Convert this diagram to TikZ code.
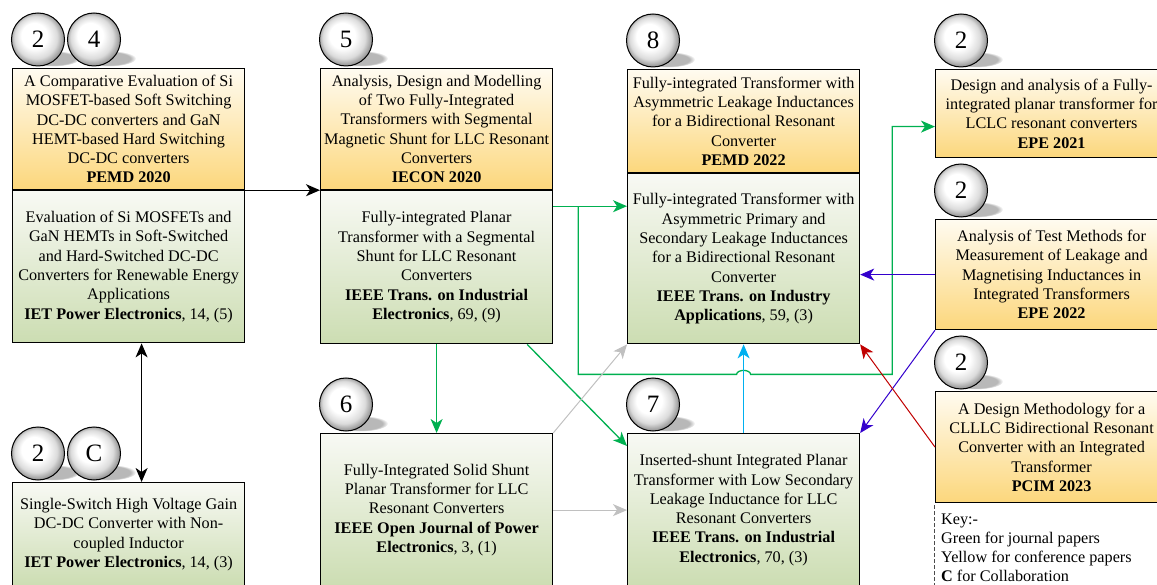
\documentclass[tikz,border=0pt]{standalone}
\usepackage{fontspec}
\setmainfont{Liberation Serif}
\usetikzlibrary{positioning,arrows.meta,fadings,backgrounds}
\definecolor{ConfTop}{HTML}{FFFBF0}
\definecolor{ConfBot}{HTML}{FCD77C}
\definecolor{JourTop}{HTML}{F8F9F4}
\definecolor{JourBot}{HTML}{CCDDB2}
\definecolor{LinkGreen}{HTML}{00B050}
\definecolor{LinkGrey}{HTML}{C0C0C0}
\definecolor{LinkCyan}{HTML}{00B0F0}
\definecolor{LinkBlue}{HTML}{3300CC}
\definecolor{LinkRed}{HTML}{C00000}
\pgfdeclareradialshading{orb}{\pgfpoint{-6bp}{6bp}}{color(0bp)=(white); color(12bp)=(white); color(20bp)=(black!14); color(26bp)=(black!45); color(30bp)=(black!55)}

\begin{document}
\begin{tikzpicture}[
      x=1pt, y=-1pt,
      >={Stealth[length=14pt, width=12pt, inset=4pt]},
      every node/.style={font=\fontsize{16.2pt}{19.3pt}\selectfont},
      conf/.style={draw=black, line width=1.2pt, top color=ConfTop, bottom color=ConfBot, minimum width=232pt, inner sep=2pt, align=center, anchor=north west},
      jour/.style={draw=black, line width=1.2pt, top color=JourTop, bottom color=JourBot, minimum width=232pt, inner sep=2pt, align=center, anchor=north west},
      ball/.style={circle, draw=black, line width=1pt, minimum size=53pt, inner sep=0pt, shade, shading=orb, anchor=south, font=\fontsize{25pt}{25pt}\selectfont},
      ballshade/.style={fill=black!28, path fading=circle with fuzzy edge 20 percent},
      link/.style={line width=1.3pt, ->},
      thinlink/.style={line width=1pt, ->},
      keytext/.style={align=left, inner sep=0pt},
      keyline/.style={dash pattern=on 4pt off 2pt, line width=0.8pt, black!70}
    ]
    \useasboundingbox (0,0) rectangle (1157,585);

    % conference (top) and journal (bottom) boxes
    \node[conf, minimum height=121pt] (pemd20) at (12,68) {A Comparative Evaluation of Si\\MOSFET-based Soft Switching\\DC-DC converters and GaN\\HEMT-based Hard Switching\\DC-DC converters\\\textbf{PEMD 2020}};
    \node[jour, minimum height=152pt, anchor=north] (ietpe5) at (pemd20.south) {Evaluation of Si MOSFETs and\\GaN HEMTs in Soft-Switched\\and Hard-Switched DC-DC\\Converters for Renewable Energy\\Applications\\\textbf{IET Power Electronics}, 14, (5)};
    \node[conf, minimum height=121pt] (iecon20) at (320,68) {Analysis, Design and Modelling\\of Two Fully-Integrated\\Transformers with Segmental\\Magnetic Shunt for LLC Resonant\\Converters\\\textbf{IECON 2020}};
    \node[jour, minimum height=153pt, anchor=north] (tie69) at (iecon20.south) {Fully-integrated Planar\\Transformer with a Segmental\\Shunt for LLC Resonant\\Converters\\\textbf{IEEE Trans. on Industrial}\\\textbf{Electronics}, 69, (9)};
    \node[conf, minimum height=103pt] (pemd22) at (627,69) {Fully-integrated Transformer with\\Asymmetric Leakage Inductances\\for a Bidirectional Resonant\\Converter\\\textbf{PEMD 2022}};
    \node[jour, minimum height=170pt, anchor=north] (tia59) at (pemd22.south) {Fully-integrated Transformer with\\Asymmetric Primary and\\Secondary Leakage Inductances\\for a Bidirectional Resonant\\Converter\\\textbf{IEEE Trans. on Industry}\\\textbf{Applications}, 59, (3)};
    \node[conf, minimum height=88pt] (epe21) at (935,69) {Design and analysis of a Fully-\\integrated planar transformer for\\LCLC resonant converters\\\textbf{EPE 2021}};
    \node[conf, minimum height=110pt] (epe22) at (935,219) {Analysis of Test Methods for\\Measurement of Leakage and\\Magnetising Inductances in\\Integrated Transformers\\\textbf{EPE 2022}};
    \node[conf, minimum height=111pt] (pcim23) at (935,391) {A Design Methodology for a\\CLLLC Bidirectional Resonant\\Converter with an Integrated\\Transformer\\\textbf{PCIM 2023}};
    \node[jour, minimum height=104pt] (ietpe3) at (12,482) {Single-Switch High Voltage Gain\\DC-DC Converter with Non-\\coupled Inductor\\\textbf{IET Power Electronics}, 14, (3)};
    \node[jour, minimum height=153pt] (ojpe3) at (320,433) {Fully-Integrated Solid Shunt\\Planar Transformer for LLC\\Resonant Converters\\\textbf{IEEE Open Journal of Power}\\\textbf{Electronics}, 3, (1)};
    \node[jour, minimum height=153pt] (tie70) at (627,433) {Inserted-shunt Integrated Planar\\Transformer with Low Secondary\\Leakage Inductance for LLC\\Resonant Converters\\\textbf{IEEE Trans. on Industrial}\\\textbf{Electronics}, 70, (3)};

    % citation balls
    \node[ball] (cpemd20) at ([xshift=26pt, yshift=1.5pt]pemd20.north west) {2};
    \node[ball, right=2pt of cpemd20] (cpemd20b) {4};
    \node[ball] (ciecon20) at ([xshift=26pt, yshift=1.5pt]iecon20.north west) {5};
    \node[ball] (cpemd22) at ([xshift=26pt, yshift=1.5pt]pemd22.north west) {8};
    \node[ball] (cepe21) at ([xshift=26pt, yshift=1.5pt]epe21.north west) {2};
    \node[ball] (cepe22) at ([xshift=26pt, yshift=1.5pt]epe22.north west) {2};
    \node[ball] (cpcim23) at ([xshift=26pt, yshift=1.5pt]pcim23.north west) {2};
    \node[ball] (cojpe3) at ([xshift=26pt, yshift=1.5pt]ojpe3.north west) {6};
    \node[ball] (ctie70) at ([xshift=26pt, yshift=1.5pt]tie70.north west) {7};
    \node[ball] (cietpe3) at ([xshift=26pt, yshift=1.5pt]ietpe3.north west) {2};
    \node[ball, right=2pt of cietpe3] (cietpe3b) {C};

    \begin{scope}[on background layer]
      \fill[ballshade] ([shift={(14pt,-19pt)}]cpemd20.center) ellipse [x radius=28pt, y radius=8pt];
      \fill[ballshade] ([shift={(14pt,-19pt)}]cpemd20b.center) ellipse [x radius=28pt, y radius=8pt];
      \fill[ballshade] ([shift={(14pt,-19pt)}]ciecon20.center) ellipse [x radius=28pt, y radius=8pt];
      \fill[ballshade] ([shift={(14pt,-19pt)}]cpemd22.center) ellipse [x radius=28pt, y radius=8pt];
      \fill[ballshade] ([shift={(14pt,-19pt)}]cepe21.center) ellipse [x radius=28pt, y radius=8pt];
      \fill[ballshade] ([shift={(14pt,-19pt)}]cepe22.center) ellipse [x radius=28pt, y radius=8pt];
      \fill[ballshade] ([shift={(14pt,-19pt)}]cpcim23.center) ellipse [x radius=28pt, y radius=8pt];
      \fill[ballshade] ([shift={(14pt,-19pt)}]cojpe3.center) ellipse [x radius=28pt, y radius=8pt];
      \fill[ballshade] ([shift={(14pt,-19pt)}]ctie70.center) ellipse [x radius=28pt, y radius=8pt];
      \fill[ballshade] ([shift={(14pt,-19pt)}]cietpe3.center) ellipse [x radius=28pt, y radius=8pt];
      \fill[ballshade] ([shift={(14pt,-19pt)}]cietpe3b.center) ellipse [x radius=28pt, y radius=8pt];
    \end{scope}

    % connectors
    \draw[link] (pemd20.south east) -- (iecon20.south west);
    \draw[link, <->] ([xshift=13pt]ietpe5.south) -- ([xshift=13pt]ietpe3.north);

    \coordinate (gout) at ([yshift=-16pt]tie69.north east);
    \coordinate (gsplit) at ([xshift=25pt]gout);
    \coordinate (gloop) at ([xshift=32pt, yshift=-30pt]tia59.south east);
    \coordinate (gjump) at (tia59.south |- gloop);
    \draw[link, LinkGreen] (gout) -- (gout -| tia59.west);
    \draw[link, LinkGreen] (gsplit) |- ([xshift=-7pt]gjump) arc[start angle=180, end angle=0, x radius=7pt, y radius=4pt] -- (gloop) |- ([yshift=-13pt]epe21.west);
    \draw[link, LinkGreen] (tie69.south) -- (ojpe3.north);
    \draw[link, LinkGreen] ([xshift=-26pt]tie69.south east) -- ([yshift=-13pt]tie70.north west);

    \draw[thinlink, LinkGrey] (ojpe3.north east) -- (tia59.south west);
    \draw[thinlink, LinkGrey] (ojpe3.east) -- (tie70.west);
    \draw[link, LinkCyan] (tie70.north) -- (tia59.south);
    \draw[thinlink, LinkBlue] (epe22.west) -- (epe22.west -| tia59.east);
    \draw[thinlink, LinkBlue] (epe22.south west) -- (tie70.north east);
    \draw[thinlink, LinkRed] (pcim23.west) -- (tia59.south east);

    % key
    \node[keytext, anchor=north west] (key) at ([xshift=6pt, yshift=-10pt]pcim23.south west) {Key:-\\Green for journal papers\\Yellow for conference papers\\\textbf{C} for Collaboration};
    \draw[keyline] ([xshift=-1pt, yshift=-2pt]pcim23.south west) -- ++(0,90);
  \end{tikzpicture}
\end{document}
